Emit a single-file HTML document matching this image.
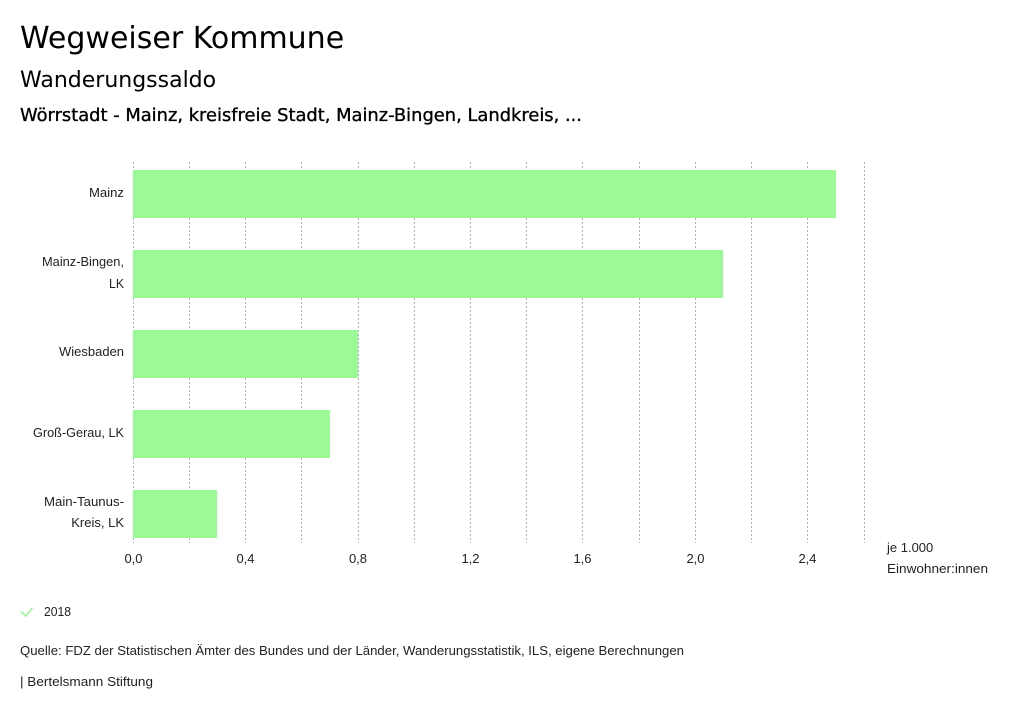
<!DOCTYPE html>
<html>
<head>
<meta charset="utf-8">
<style>
  html, body { margin: 0; padding: 0; background: #ffffff; }
  svg { display: block; }
  .sans { font-family: "Liberation Sans", "DejaVu Sans", sans-serif; }
  .dv { font-family: "DejaVu Sans", "Liberation Sans", sans-serif; }
</style>
</head>
<body>
<svg width="1024" height="714" viewBox="0 0 1024 714" xmlns="http://www.w3.org/2000/svg">
  <rect x="0" y="0" width="1024" height="714" fill="#ffffff"/>

  <!-- Titles -->
  <text class="dv" x="20" y="48" font-size="30" fill="#000">Wegweiser Kommune</text>
  <text class="dv" x="20" y="87" font-size="22" fill="#000">Wanderungssaldo</text>
  <text class="dv" x="20" y="121" font-size="17.7" fill="#000" stroke="#000" stroke-width="0.35" textLength="562" lengthAdjust="spacingAndGlyphs">Wörrstadt - Mainz, kreisfreie Stadt, Mainz-Bingen, Landkreis, ...</text>

  <!-- Gridlines -->
  <g stroke="#b3b3b3" stroke-width="1" stroke-dasharray="2 2">
    <line x1="133.5" y1="162" x2="133.5" y2="543"/>
    <line x1="189.5" y1="162" x2="189.5" y2="543"/>
    <line x1="245.5" y1="162" x2="245.5" y2="543"/>
    <line x1="301.5" y1="162" x2="301.5" y2="543"/>
    <line x1="358.5" y1="162" x2="358.5" y2="543"/>
    <line x1="414.5" y1="162" x2="414.5" y2="543"/>
    <line x1="470.5" y1="162" x2="470.5" y2="543"/>
    <line x1="526.5" y1="162" x2="526.5" y2="543"/>
    <line x1="582.5" y1="162" x2="582.5" y2="543"/>
    <line x1="639.5" y1="162" x2="639.5" y2="543"/>
    <line x1="695.5" y1="162" x2="695.5" y2="543"/>
    <line x1="751.5" y1="162" x2="751.5" y2="543"/>
    <line x1="807.5" y1="162" x2="807.5" y2="543"/>
    <line x1="864.5" y1="162" x2="864.5" y2="543"/>
  </g>

  <!-- Bars -->
  <g fill="#9cfa96">
    <rect x="133" y="170" width="703" height="48"/>
    <rect x="133" y="250" width="590" height="48"/>
    <rect x="133" y="330" width="225" height="48"/>
    <rect x="133" y="410" width="197" height="48"/>
    <rect x="133" y="490" width="84" height="48"/>
  </g>

  <!-- Y labels -->
  <g class="sans" font-size="13" fill="#222" text-anchor="end">
    <text x="124" y="197" textLength="35" lengthAdjust="spacingAndGlyphs">Mainz</text>
    <text x="124" y="266" textLength="82" lengthAdjust="spacingAndGlyphs">Mainz-Bingen,</text>
    <text x="124" y="288" textLength="15" lengthAdjust="spacingAndGlyphs">LK</text>
    <text x="124" y="356" textLength="65" lengthAdjust="spacingAndGlyphs">Wiesbaden</text>
    <text x="124" y="437" textLength="91" lengthAdjust="spacingAndGlyphs">Groß-Gerau, LK</text>
    <text x="124" y="506" textLength="80" lengthAdjust="spacingAndGlyphs">Main-Taunus-</text>
    <text x="124" y="527">Kreis, LK</text>
  </g>

  <!-- X tick labels -->
  <g class="sans" font-size="13" fill="#222" text-anchor="middle">
    <text x="133.5" y="563">0,0</text>
    <text x="245.5" y="563">0,4</text>
    <text x="358" y="563">0,8</text>
    <text x="470.5" y="563">1,2</text>
    <text x="582.5" y="563">1,6</text>
    <text x="695.5" y="563">2,0</text>
    <text x="807.5" y="563">2,4</text>
  </g>

  <!-- Unit -->
  <g class="sans" font-size="13" fill="#222">
    <text x="887" y="552">je 1.000</text>
    <text x="887" y="573" textLength="101" lengthAdjust="spacingAndGlyphs">Einwohner:innen</text>
  </g>

  <!-- Legend -->
  <path d="M21 611.5 L25.5 616 L32.5 608" fill="none" stroke="#9cfa96" stroke-width="1.6"/>
  <text class="sans" x="44" y="616" font-size="13" fill="#222" textLength="27" lengthAdjust="spacingAndGlyphs">2018</text>

  <!-- Source -->
  <text class="sans" x="20" y="655" font-size="13" fill="#222" textLength="664" lengthAdjust="spacingAndGlyphs">Quelle: FDZ der Statistischen Ämter des Bundes und der Länder, Wanderungsstatistik, ILS, eigene Berechnungen</text>
  <text class="sans" x="20" y="686" font-size="13" fill="#222" textLength="133" lengthAdjust="spacingAndGlyphs">| Bertelsmann Stiftung</text>
</svg>
</body>
</html>
